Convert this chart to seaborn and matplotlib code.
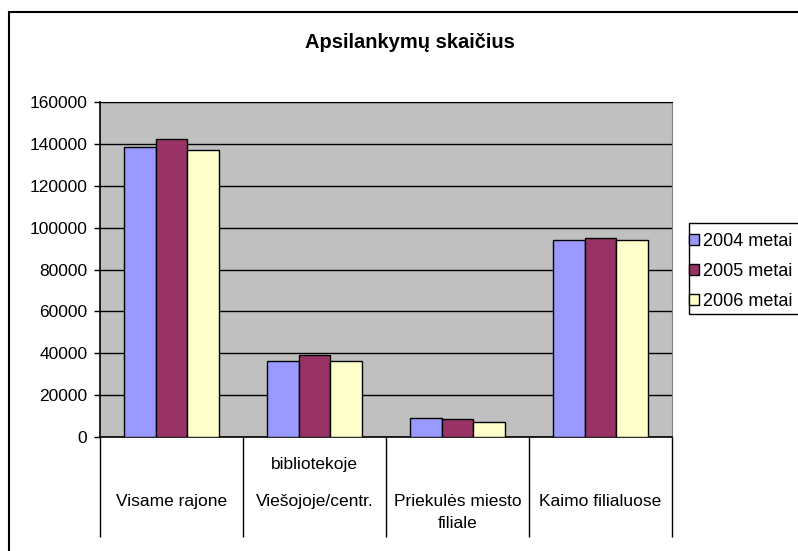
import matplotlib
matplotlib.use("Agg")
import matplotlib.pyplot as plt
import seaborn as sns
import pandas as pd
from matplotlib.patches import Rectangle, Patch
from matplotlib.lines import Line2D

# data
categories = ["Visame rajone", "Viešojoje/centr. bibliotekoje",
              "Priekulės miesto filiale", "Kaimo filialuose"]
series_names = ["2004 metai", "2005 metai", "2006 metai"]
values_2004 = [138700, 36200, 9200, 94100]
values_2005 = [142300, 39400, 8400, 94900]
values_2006 = [137000, 36200, 7000, 94100]
colors = ["#9999FF", "#993366", "#FFFFCC"]
y_ticks = [0, 20000, 40000, 60000, 80000, 100000, 120000, 140000, 160000]
title = "Apsilankymų skaičius"

# how the category labels are laid out in the original (main line, line above, line below)
label_main = ["Visame rajone", "Viešojoje/centr.", "Priekulės miesto", "Kaimo filialuose"]
label_above = ["", "bibliotekoje", "", ""]
label_below = ["", "", "filiale", ""]

rows = []
for name, vals in zip(series_names, [values_2004, values_2005, values_2006]):
    for cat, v in zip(categories, vals):
        rows.append({"cat": cat, "series": name, "value": v})
df = pd.DataFrame(rows)

plt.rcParams["font.family"] = ["Liberation Sans", "DejaVu Sans"]
plt.rcParams["font.size"] = 12.5

W, H = 798, 551
fig = plt.figure(figsize=(W / 100, H / 100), dpi=100)
ax = fig.add_axes([100 / W, 1 - 437 / H, 572 / W, 335 / H])
ax.set_facecolor("#C0C0C0")

sns.barplot(data=df, x="cat", y="value", hue="series", order=categories,
            hue_order=series_names, palette=colors, saturation=1, width=0.665,
            edgecolor="black", linewidth=1, ax=ax, legend=False, zorder=3)

ax.set_xlim(-0.5, len(categories) - 0.5)
ax.set_ylim(0, 160000)
ax.set_yticks(y_ticks)
ax.set_yticklabels([str(t) for t in y_ticks])
ax.yaxis.grid(True, color="black", linewidth=1)
ax.set_axisbelow(True)
ax.tick_params(axis="y", direction="out", length=4, width=1, pad=5)
ax.set_xlabel("")
ax.set_ylabel("")

# category separator ticks reaching down below the axis
ax.set_xticks([i - 0.5 for i in range(len(categories) + 1)])
ax.set_xticklabels([])
ax.tick_params(axis="x", direction="out", length=72, width=1, color="black")

for sp in ["left", "bottom"]:
    ax.spines[sp].set_color("black")
    ax.spines[sp].set_linewidth(1.2)
ax.spines["right"].set_color("#808080")
ax.spines["top"].set_color("black")

trans = ax.get_xaxis_transform()
y_main = -(501.7 - 437) / 335
y_step = 22 / 335
for i in range(len(categories)):
    ax.text(i, y_main, label_main[i], transform=trans, ha="center", va="center")
    if label_above[i]:
        ax.text(i, y_main + 36.7 / 335, label_above[i], transform=trans,
                ha="center", va="center")
    if label_below[i]:
        ax.text(i, y_main - y_step, label_below[i], transform=trans,
                ha="center", va="center")

fig.text(410 / W, 1 - 42 / H, title, ha="center", va="center",
         fontsize=14.5, fontweight="bold")

# legend
handles = [Patch(facecolor=c, edgecolor="black", linewidth=1) for c in colors]
fig.legend(handles, series_names, loc="upper left",
           bbox_to_anchor=(689 / W, 1 - 233 / H), frameon=False, fontsize=13,
           handlelength=0.55, handleheight=0.55, handletextpad=0.2,
           labelspacing=0.72, borderpad=0.0, borderaxespad=0)
fig.add_artist(Rectangle((689 / W, 1 - 314 / H), 140 / W, 91 / H,
                         transform=fig.transFigure, fill=False,
                         edgecolor="black", linewidth=1))

# outer chart border
fig.add_artist(Line2D([8.5 / W, 8.5 / W], [0, 1 - 12 / H], transform=fig.transFigure,
                      color="black", linewidth=1.5))
fig.add_artist(Line2D([8.5 / W, 1], [1 - 12 / H, 1 - 12 / H], transform=fig.transFigure,
                      color="black", linewidth=1.5))

fig.savefig("out.png", dpi=100)
